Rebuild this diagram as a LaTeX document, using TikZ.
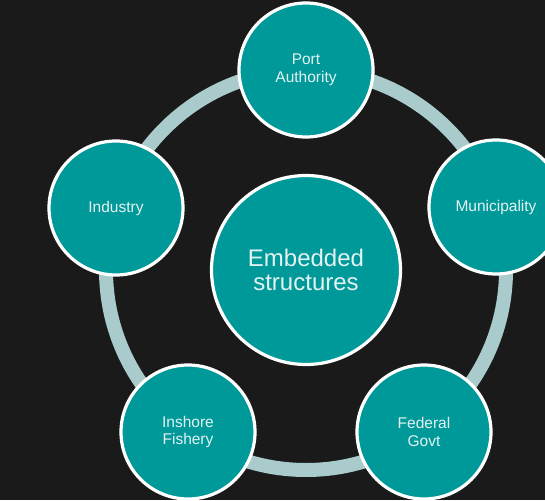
\documentclass[tikz,border=0pt]{standalone}
\usepackage{fontspec}
\setmainfont{Liberation Sans}
\definecolor{bgc}{HTML}{1A1A1A}
\definecolor{tealc}{HTML}{009999}
\definecolor{ringc}{HTML}{A9CBCB}
\definecolor{txtc}{HTML}{E4F2F2}
\begin{document}
\begin{tikzpicture}[x=1pt,y=-1pt,
  bubble/.style={circle,draw=white,line width=3.2pt,fill=tealc,text=txtc,
    align=center,inner sep=0pt,font=\fontsize{15.5}{17.8}\selectfont},
  small/.style={bubble,minimum size=134pt},
  big/.style={bubble,minimum size=189pt,font=\fontsize{24}{23.5}\selectfont}]
\fill[bgc] (0,0) rectangle (545,500);
\useasboundingbox (0,0) rectangle (545,500);
\coordinate (c) at (306,270);
\draw[ringc,line width=14pt] (c) circle[radius=200];
\node[big] (center) at (c) {Embedded\\structures};
\node[small] (port) at (306,70) {Port\\Authority};
\node[small] (muni) at (496,207) {Municipality};
\node[small] (fed) at (424,432) {Federal\\Govt};
\node[small] (fish) at (188,432) {Inshore\\Fishery};
\node[small] (ind) at (116,208) {Industry};
\end{tikzpicture}
\end{document}
